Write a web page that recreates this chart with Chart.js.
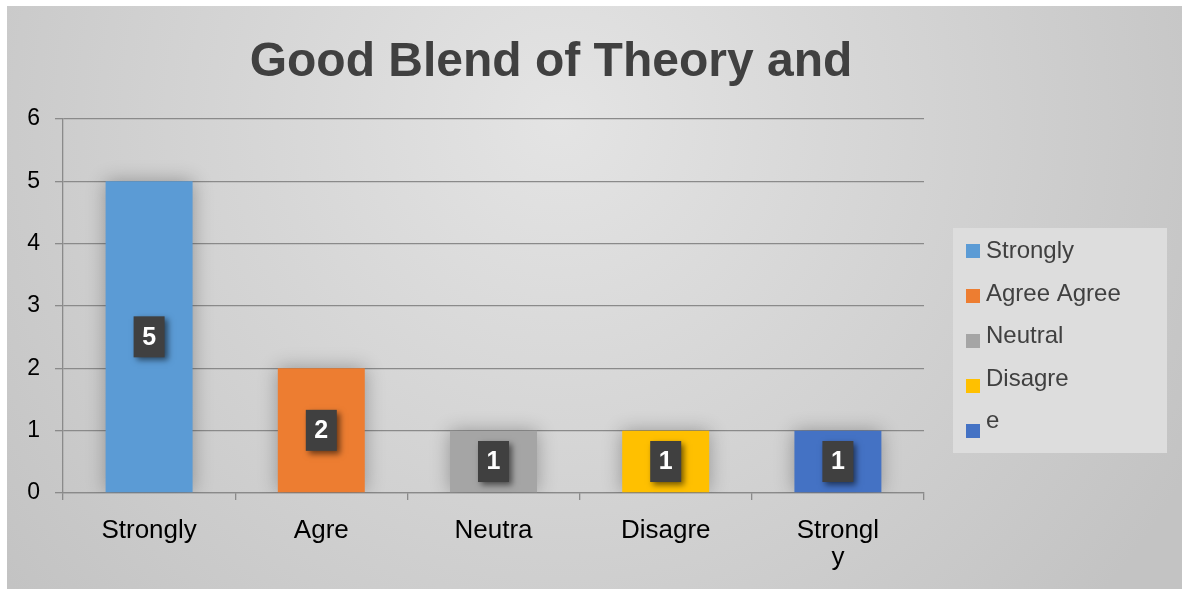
<!DOCTYPE html>
<html>
<head>
<meta charset="utf-8">
<script src="https://cdn.jsdelivr.net/npm/chart.js@4"></script>
<style>
  html, body { margin: 0; padding: 0; background: #fff; }
  canvas { display: block; }
</style>
</head>
<body>
<canvas id="blend" width="1182" height="589"></canvas>
<script>
  const categories = ['Strongly', 'Agre', 'Neutra', 'Disagre', ['Strongl', 'y']];
  const responses = [5, 2, 1, 1, 1];
  const barColors = ['#5B9BD5', '#ED7D31', '#A5A5A5', '#FFC000', '#4472C4'];
  const legendLines = ['Strongly', 'Agree Agree', 'Neutral', 'Disagre', 'e', 'Strongly'];
  const titleText = 'Good Blend of Theory and';

  const FONT = '"Liberation Sans", Arial, sans-serif';
  const gridColor = '#8a8a8a';

  // grey panel with a soft radial light behind everything
  const panel = {
    id: 'panel',
    beforeDraw(chart) {
      const c = chart.ctx;
      c.save();
      c.fillStyle = '#fff';
      c.fillRect(0, 0, chart.width, chart.height);
      const g = c.createRadialGradient(560, 120, 0, 560, 120, 720);
      g.addColorStop(0, '#e4e4e4');
      g.addColorStop(1, '#c3c3c3');
      c.fillStyle = g;
      c.fillRect(7, 6, chart.width - 7, chart.height - 6);
      c.fillStyle = '#404040';
      c.font = 'bold 48px ' + FONT;
      c.textAlign = 'center';
      c.textBaseline = 'alphabetic';
      c.fillText(titleText, 551, 76);
      c.restore();
    }
  };

  // soft glow round the bars
  const barGlow = {
    id: 'barGlow',
    beforeDatasetsDraw(chart) {
      const c = chart.ctx;
      c.save();
      c.shadowColor = 'rgba(0,0,0,0.3)';
      c.shadowBlur = 18;
    },
    afterDatasetsDraw(chart) {
      chart.ctx.restore();
    }
  };

  // dark value boxes in the middle of each bar
  const valueBoxes = {
    id: 'valueBoxes',
    afterDatasetsDraw(chart) {
      const c = chart.ctx;
      const meta = chart.getDatasetMeta(0);
      meta.data.forEach((bar, i) => {
        const cy = (bar.y + bar.base) / 2;
        c.save();
        c.shadowColor = 'rgba(0,0,0,0.55)';
        c.shadowBlur = 6;
        c.shadowOffsetX = 3;
        c.shadowOffsetY = 3;
        c.fillStyle = '#404040';
        c.fillRect(bar.x - 15.5, cy - 20.5, 31, 41);
        c.restore();
        c.save();
        c.fillStyle = '#fff';
        c.font = 'bold 25px ' + FONT;
        c.textAlign = 'center';
        c.textBaseline = 'middle';
        c.fillText(String(chart.data.datasets[0].data[i]), bar.x, cy + 1);
        c.restore();
      });
    }
  };

  // the clipped legend box on the right
  const sideLegend = {
    id: 'sideLegend',
    afterDraw(chart) {
      const c = chart.ctx;
      const bx = 953, by = 228, bw = 214, bh = 225;
      c.save();
      c.fillStyle = '#dddddd';
      c.fillRect(bx, by, bw, bh);
      c.beginPath();
      c.rect(bx, by, bw, bh);
      c.clip();
      barColors.forEach((col, i) => {
        c.fillStyle = col;
        c.fillRect(966, 244 + i * 45, 14, 14);
      });
      c.fillStyle = '#404040';
      c.font = '24px ' + FONT;
      c.textAlign = 'left';
      c.textBaseline = 'alphabetic';
      legendLines.forEach((t, i) => {
        c.fillText(t, 986, 258 + i * 42.5);
      });
      c.restore();
    }
  };

  new Chart(document.getElementById('blend'), {
    type: 'bar',
    data: {
      labels: categories,
      datasets: [{
        data: responses,
        backgroundColor: barColors,
        borderWidth: 0,
        categoryPercentage: 1,
        barPercentage: 0.505
      }]
    },
    options: {
      responsive: false,
      animation: false,
      devicePixelRatio: 1,
      layout: { padding: { top: 119, left: 0, right: 258, bottom: 0 } },
      plugins: {
        legend: { display: false },
        tooltip: { enabled: false },
        title: { display: false }
      },
      scales: {
        x: {
          afterFit(scale) { scale.height = 96; },
          grid: {
            offset: true,
            drawOnChartArea: false,
            drawTicks: true,
            tickLength: 7,
            color: gridColor,
            lineWidth: 1.3
          },
          border: { display: true, color: gridColor, width: 1.3 },
          ticks: {
            color: '#000',
            padding: 17,
            maxRotation: 0,
            autoSkip: false,
            font: { family: FONT, size: 26, lineHeight: 1.05 }
          }
        },
        y: {
          min: 0,
          max: 6,
          afterFit(scale) { scale.width = 63; },
          grid: {
            color: gridColor,
            lineWidth: 1.3,
            drawTicks: true,
            tickLength: 8
          },
          border: { display: true, color: gridColor, width: 1.3 },
          ticks: {
            stepSize: 1,
            color: '#000',
            padding: 15,
            font: { family: FONT, size: 23 }
          }
        }
      }
    },
    plugins: [panel, barGlow, valueBoxes, sideLegend]
  });
</script>
</body>
</html>
